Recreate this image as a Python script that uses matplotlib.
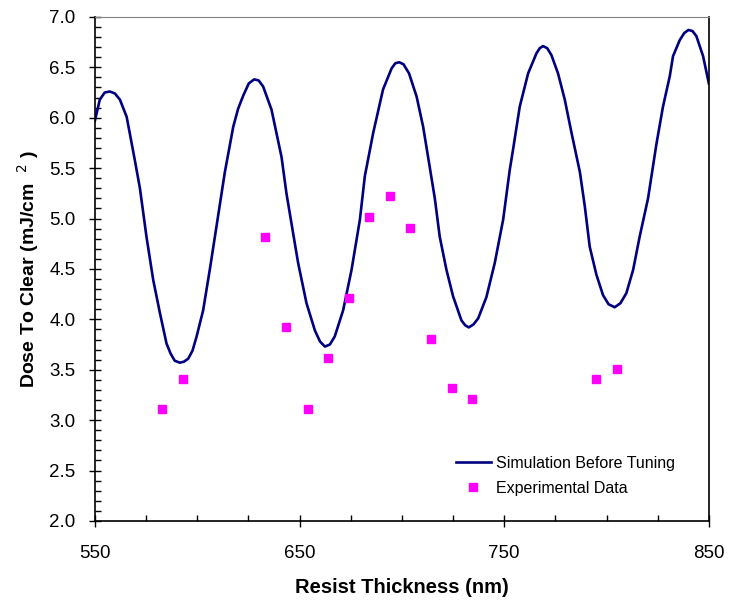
import matplotlib.pyplot as plt
from matplotlib.ticker import MultipleLocator

# simulated swing curve
sim_x = [550.0, 552.4, 554.8, 557.3, 559.8, 562.2, 565.5, 567.0, 569.5, 572.0,
         575.2, 578.5, 581.8, 585.0, 587.0, 589.0, 591.5, 593.5, 595.6, 597.7,
         599.7, 602.9, 606.2, 609.4, 613.5, 617.6, 620.0, 622.5, 625.2, 627.8,
         630.0, 632.2, 636.3, 641.2, 643.6, 646.9, 649.3, 653.4, 657.5, 660.0,
         662.4, 664.8, 667.2, 671.3, 675.4, 679.5, 681.9, 686.0, 690.8, 695.0,
         696.8, 698.7, 700.8, 703.5, 707.2, 710.4, 713.7, 716.1, 718.5, 721.8,
         725.0, 729.1, 731.0, 732.7, 735.0, 737.3, 741.3, 745.4, 749.5, 752.7,
         754.3, 757.6, 761.7, 765.8, 767.4, 769.0, 771.0, 773.1, 776.3, 779.6,
         782.9, 787.0, 789.4, 791.8, 795.1, 798.3, 801.0, 804.0, 806.8, 809.7,
         813.0, 816.2, 820.3, 824.4, 827.6, 830.9, 832.5, 835.8, 838.0, 840.0,
         842.0, 843.9, 847.2, 850.0]
sim_y = [5.97, 6.18, 6.25, 6.26, 6.24, 6.18, 6.01, 5.85, 5.58, 5.30,
         4.82, 4.39, 4.06, 3.76, 3.66, 3.59, 3.57, 3.58, 3.61, 3.69,
         3.83, 4.09, 4.50, 4.92, 5.46, 5.91, 6.09, 6.22, 6.34, 6.38,
         6.37, 6.31, 6.08, 5.61, 5.25, 4.85, 4.56, 4.16, 3.89, 3.78,
         3.73, 3.75, 3.83, 4.09, 4.49, 4.99, 5.42, 5.85, 6.28, 6.49,
         6.54, 6.55, 6.53, 6.44, 6.21, 5.91, 5.50, 5.20, 4.82, 4.49,
         4.23, 3.99, 3.94, 3.92, 3.95, 4.01, 4.22, 4.56, 4.99, 5.48,
         5.68, 6.11, 6.44, 6.64, 6.69, 6.71, 6.69, 6.62, 6.44, 6.18,
         5.85, 5.46, 5.12, 4.72, 4.44, 4.24, 4.15, 4.12, 4.16, 4.26,
         4.49, 4.82, 5.20, 5.74, 6.11, 6.41, 6.61, 6.77, 6.84, 6.87,
         6.86, 6.81, 6.61, 6.34]

# experimental points
exp_x = [583, 593, 633, 643.5, 654, 664, 674, 684, 694, 704, 714, 724.5, 734.5, 795, 805]
exp_y = [3.11, 3.41, 4.82, 3.92, 3.11, 3.62, 4.21, 5.02, 5.22, 4.91, 3.81, 3.32, 3.21, 3.41, 3.51]

plt.rcParams['font.family'] = ['Liberation Sans', 'DejaVu Sans']

fig = plt.figure(figsize=(7.3, 6.03), dpi=100)
ax = fig.add_axes([0.130, 0.136, 0.841, 0.836])

ax.plot(sim_x, sim_y, color='#000080', lw=1.9, label='Simulation Before Tuning')
ax.plot(exp_x, exp_y, 's', color='#ff00ff', ms=5.5, label='Experimental Data')

ax.set_xlim(550, 850)
ax.set_ylim(2.0, 7.0)
ax.set_xticks([550, 650, 750, 850])
ax.xaxis.set_minor_locator(MultipleLocator(25))
ax.yaxis.set_major_locator(MultipleLocator(0.5))
ax.yaxis.set_minor_locator(MultipleLocator(0.1))
ax.yaxis.set_major_formatter(plt.FormatStrFormatter('%.1f'))
ax.tick_params(which='major', direction='inout', length=8, width=1, labelsize=13.5)
ax.tick_params(which='minor', direction='in', length=4, width=1)
ax.tick_params(axis='x', which='major', pad=13)
ax.tick_params(axis='y', which='major', pad=10)

ax.spines['top'].set_color('#808080')
ax.spines['top'].set_linewidth(0.8)
for s in ['left', 'bottom', 'right']:
    ax.spines[s].set_linewidth(1.2)

ax.set_xlabel('Resist Thickness (nm)', fontsize=14.5, fontweight='bold', labelpad=12)
ax.set_ylabel('Dose To Clear (mJ/cm  $^{2}$ )', fontsize=14, fontweight='bold', labelpad=6)

ax.legend(loc='lower right', bbox_to_anchor=(0.968, 0.022), frameon=False, fontsize=11.5,
          handlelength=2.2, handletextpad=0.3, labelspacing=0.6)

fig.savefig('out.png', dpi=100)
